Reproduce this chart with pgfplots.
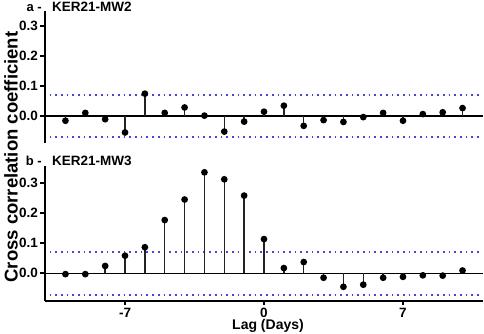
\documentclass[border=0pt]{standalone}
\usepackage{fontspec}
\setmainfont{Liberation Sans}
\usepackage{pgfplots}
\usepackage{pgfplotstable}
\pgfplotsset{compat=1.18}
\definecolor{dotblue}{RGB}{70,70,215}
\definecolor{stemc}{RGB}{35,35,35}
\pgfplotstableread{
lag r
-10 -0.016
-9 0.010
-8 -0.011
-7 -0.055
-6 0.074
-5 0.010
-4 0.028
-3 0.001
-2 -0.052
-1 -0.019
0 0.014
1 0.034
2 -0.033
3 -0.014
4 -0.020
5 -0.004
6 0.010
7 -0.016
8 0.006
9 0.012
10 0.026
}\mwtwo
\pgfplotstableread{
lag r
-10 -0.003
-9 -0.003
-8 0.024
-7 0.058
-6 0.086
-5 0.176
-4 0.244
-3 0.334
-2 0.311
-1 0.257
0 0.113
1 0.017
2 0.037
3 -0.015
4 -0.045
5 -0.038
6 -0.015
7 -0.012
8 -0.007
9 -0.008
10 0.009
}\mwthree
\begin{document}
\begin{tikzpicture}
\useasboundingbox (0,0) rectangle (484pt,334pt);
\pgfplotsset{
  cc/.style={
    scale only axis, width=438pt, xmin=-11.03, xmax=11.03,
    clip=false,
    tick align=outside, major tick length=4.5pt,
    tick style={black, line width=1.8pt},
    ytick={0,0.1,0.2,0.3}, yticklabels={0.0,0.1,0.2,0.3},
    ytick pos=left,
    ticklabel style={font=\bfseries\fontsize{13.5}{14}\selectfont},
    yticklabel style={xshift=1pt},
    axis line style={-, black},
    y axis line style={line width=2pt},
  },
  zl/.style={black, line width=1.4pt},
  dl/.style={dotblue, line width=1.9pt, dash pattern=on 1.7pt off 4pt},
  st/.style={ycomb, stemc, line width=1.45pt, mark=*, mark size=2.6pt, mark options={black, fill=black, solid}},
}
\begin{axis}[cc, at={(45pt,191pt)}, anchor=south west, height=131.5pt,
  ymin=-0.09, ymax=0.347, axis y line*=left, axis x line=none, xtick=\empty]
  \addplot[dl] coordinates {(-10.8,0.07) (10.83,0.07)};
  \addplot[dl] coordinates {(-10.8,-0.069) (10.83,-0.069)};
  \addplot[zl] coordinates {(-11.03,0) (11.03,0)};
  \addplot[st] table[x=lag, y=r] {\mwtwo};
\end{axis}
\begin{axis}[cc, at={(45pt,33pt)}, anchor=south west, height=135pt,
  ymin=-0.092, ymax=0.355, axis y line*=left, axis x line*=bottom,
  x axis line style={line width=2.6pt},
  xtick={-7,0,7}, xticklabels={-7,0,7}, xtick pos=bottom,
  xticklabel style={yshift=1pt}]
  \addplot[dl] coordinates {(-10.8,0.0715) (10.83,0.0715)};
  \addplot[dl] coordinates {(-10.8,-0.071) (10.83,-0.071)};
  \addplot[zl] coordinates {(-11.03,0) (11.03,0)};
  \addplot[st] table[x=lag, y=r] {\mwthree};
\end{axis}
\node[anchor=base east, inner sep=0pt, font=\bfseries\fontsize{13}{14}\selectfont] at (42pt,322.5pt) {a -};
\node[anchor=base west, inner sep=0pt, font=\bfseries\fontsize{13.5}{14}\selectfont] at (52pt,322.5pt) {KER21-MW2};
\node[anchor=base east, inner sep=0pt, font=\bfseries\fontsize{13}{14}\selectfont] at (42pt,168pt) {b -};
\node[anchor=base west, inner sep=0pt, font=\bfseries\fontsize{13.5}{14}\selectfont] at (52pt,168pt) {KER21-MW3};
\node[rotate=90, inner sep=0pt, font=\bfseries\fontsize{18.5}{19}\selectfont] at (11pt,177pt) {Cross correlation coefficient};
\node[anchor=base, inner sep=0pt, font=\bfseries\fontsize{14}{15}\selectfont] at (268pt,4pt) {Lag (Days)};
\end{tikzpicture}
\end{document}
